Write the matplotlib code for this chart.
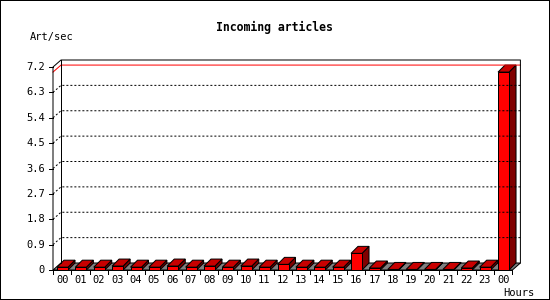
# Incoming articles per hour, GD-style 3d bar chart
import matplotlib
matplotlib.use('Agg')
import matplotlib.pyplot as plt
from matplotlib.patches import Polygon, Rectangle

hours = ['00', '01', '02', '03', '04', '05', '06', '07', '08', '09', '10', '11',
         '12', '13', '14', '15', '16', '17', '18', '19', '20', '21', '22', '23', '00']
rates = [0.10, 0.10, 0.10, 0.14, 0.10, 0.10, 0.14, 0.10, 0.14, 0.10, 0.14, 0.10,
         0.20, 0.10, 0.10, 0.10, 0.59, 0.07, 0.02, 0.02, 0.02, 0.02, 0.07, 0.10, 7.02]
y_ticks = [0, 0.9, 1.8, 2.7, 3.6, 4.5, 5.4, 6.3, 7.2]
y_labels = ['0', '0.9', '1.8', '2.7', '3.6', '4.5', '5.4', '6.3', '7.2']

W, H = 550, 300
fig = plt.figure(figsize=(W / 100, H / 100), dpi=100)
fig.patch.set_facecolor('white')

# front plane: x 53..512 px, y 270..67 px
ax_left, ax_bottom, ax_w, ax_h = 53, 30, 459.4, 203
ax = fig.add_axes([ax_left / W, ax_bottom / H, ax_w / W, ax_h / H])
n = len(hours)
ymax = y_ticks[-1]
ax.set_xlim(0, n)
ax.set_ylim(0, ymax)
ax.axis('off')

pxx = ax_w / n          # pixels per category
pxy = ax_h / ymax       # pixels per unit
lw = 0.72               # one pixel
pdx, pdy = 8 / pxx, 7 / pxy    # depth of the chart box
bdx, bdy = 7 / pxx, 7 / pxy    # depth of a bar

mono = 'DejaVu Sans Mono'

# floor
ax.add_patch(Polygon([(0, 0), (n, 0), (n + pdx, pdy), (pdx, pdy)], closed=True,
                     facecolor='#808080', edgecolor='black', lw=lw, clip_on=False))

# grid lines on the back wall
for v in y_ticks[1:-1]:
    ax.plot([0, pdx, n + pdx], [v, v + pdy, v + pdy], color='black', lw=lw,
            linestyle=(0, (2, 2)), clip_on=False)

# peak line
peak = max(rates)
ax.plot([0, pdx, n + pdx], [peak, peak + pdy, peak + pdy], color='red', lw=lw,
        clip_on=False)

# box outline
ax.plot([0, 0, pdx, n + pdx, n + pdx], [0, ymax, ymax + pdy, ymax + pdy, pdy],
        color='black', lw=lw, clip_on=False)
ax.plot([pdx, pdx], [pdy, ymax + pdy], color='black', lw=lw, clip_on=False)
ax.plot([0, n], [0, 0], color='black', lw=lw, clip_on=False)

# bars
off, bw = 4 / pxx, 11 / pxx
for i, v in enumerate(rates):
    x0 = i + off
    x1 = x0 + bw
    ax.add_patch(Polygon([(x1, 0), (x1, v), (x1 + bdx, v + bdy), (x1 + bdx, bdy)],
                         closed=True, facecolor='#800000', edgecolor='black',
                         lw=lw, clip_on=False))
    ax.add_patch(Polygon([(x0, v), (x1, v), (x1 + bdx, v + bdy), (x0 + bdx, v + bdy)],
                         closed=True, facecolor='#c80000', edgecolor='black',
                         lw=lw, clip_on=False))
    ax.add_patch(Rectangle((x0, 0), bw, v, facecolor='red', edgecolor='black',
                           lw=lw, clip_on=False))

# y ticks and labels
for v, lab in zip(y_ticks, y_labels):
    ax.plot([-4 / pxx, 0], [v, v], color='black', lw=lw, clip_on=False)
    ax.text(-8 / pxx, v, lab, ha='right', va='center', fontsize=7.5,
            family=mono, color='black')

# x ticks and labels
for i in range(n + 1):
    ax.plot([i, i], [0, -4 / pxy], color='black', lw=lw, clip_on=False)
for i, lab in enumerate(hours):
    ax.text(i + 0.5, -10 / pxy, lab, ha='center', va='center', fontsize=7.5,
            family=mono, color='black')

fig.text(274 / W, 1 - 27 / H, 'Incoming articles', ha='center', va='center',
         fontsize=8.3, fontweight='bold', family=mono)
fig.text(30 / W, 1 - 37 / H, 'Art/sec', ha='left', va='center', fontsize=7.5,
         family=mono)
fig.text(534 / W, 1 - 292.5 / H, 'Hours', ha='right', va='center', fontsize=7.5,
         family=mono)

# image border
fig.patches.append(Rectangle((0, 0), 1, 1, transform=fig.transFigure, fill=False,
                             edgecolor='black', lw=2 * lw))

fig.savefig('out.png', dpi=100)
